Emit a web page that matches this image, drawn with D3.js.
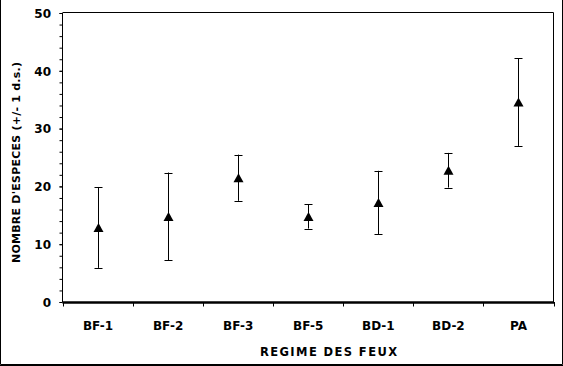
<!DOCTYPE html>
<html>
<head>
<meta charset="utf-8">
<script src="https://cdn.jsdelivr.net/npm/d3@7"></script>
<style>
  html, body { margin: 0; padding: 0; background: #fff; }
  svg { display: block; }
  text { font-family: "DejaVu Sans", "Liberation Sans", Arial, sans-serif; fill: #000; }
</style>
</head>
<body>
<script>
const categories = ["BF-1", "BF-2", "BF-3", "BF-5", "BD-1", "BD-2", "PA"];
const means = [12.9, 14.8, 21.5, 14.8, 17.2, 22.8, 34.6];
const sds = [7.0, 7.6, 4.0, 2.1, 5.5, 3.0, 7.6];
const yTicks = [0, 10, 20, 30, 40, 50];
const yMinorTicks = d3.range(0, 50.01, 2);
const xTitle = "REGIME DES FEUX";
const yTitle = "NOMBRE D'ESPECES (+/- 1 d.s.)";

(function () {
const W = 563, H = 366;
const mLeft = 63, mRight = 553.5, mTop = 13, mBottom = 302;
const FONT = "DejaVu Sans, Liberation Sans, Arial, sans-serif";

const svg = d3.select("body").append("svg").attr("width", W).attr("height", H);

// outer border (left, right, bottom)
svg.append("path")
  .attr("d", `M0.5,0 V364.5 H562.5 V0`)
  .attr("fill", "none").attr("stroke", "#000").attr("stroke-width", 1);
svg.append("line").attr("x1", 0).attr("x2", 563).attr("y1", 365.5).attr("y2", 365.5)
  .attr("stroke", "#000").attr("stroke-width", 1);

const x = d3.scaleBand().domain(categories).range([mLeft, mRight]);
const y = d3.scaleLinear().domain([0, 50]).range([mBottom, mTop]);

// frame: top and right lines
svg.append("path")
  .attr("d", `M${mLeft},${mTop - 0.5} H${mRight} V${mBottom}`)
  .attr("fill", "none").attr("stroke", "#000").attr("stroke-width", 1);

// y axis
const yAxisMinor = d3.axisLeft(y).tickValues(yMinorTicks).tickSize(3).tickFormat("");
const gMinor = svg.append("g").attr("transform", `translate(${mLeft - 0.5},0)`).call(yAxisMinor);
gMinor.select(".domain").remove();
gMinor.selectAll("line").attr("stroke", "#000");

const yAxis = d3.axisLeft(y).tickValues(yTicks).tickSize(3).tickPadding(8.5).tickFormat(d3.format("d"));
const gy = svg.append("g").attr("transform", `translate(${mLeft - 0.5},0)`).call(yAxis);
gy.select(".domain").attr("stroke", "#000").attr("d", `M0,${mTop - 0.5}V${mBottom}`);
gy.selectAll("line").attr("stroke", "#000");
gy.selectAll("text")
  .attr("font-family", FONT)
  .attr("font-size", 12).attr("font-weight", "bold")
  .attr("dy", "0.36em");

// x axis
const gx = svg.append("g").attr("transform", `translate(0,${mBottom})`);
gx.append("line").attr("x1", mLeft - 0.5).attr("x2", mRight + 0.5).attr("y1", 0.5).attr("y2", 0.5)
  .attr("stroke", "#000").attr("stroke-width", 2.5);
const bounds = categories.map(c => x(c)).concat([x.range()[1]]);
gx.selectAll("line.tk").data(bounds).join("line").attr("class", "tk")
  .attr("x1", d => Math.round(d) + 0.5).attr("x2", d => Math.round(d) + 0.5)
  .attr("y1", 0).attr("y2", 4.5).attr("stroke", "#000");
gx.selectAll("text.cat").data(categories).join("text").attr("class", "cat")
  .attr("x", d => x(d) + x.bandwidth() / 2)
  .attr("y", 27.5)
  .attr("text-anchor", "middle")
  .attr("font-family", FONT)
  .attr("font-size", 12).attr("font-weight", "bold")
  .text(d => d);

// titles
svg.append("text")
  .attr("x", 328.5).attr("y", 356)
  .attr("text-anchor", "middle")
  .attr("font-family", FONT)
  .attr("font-size", 11.5).attr("font-weight", "bold")
  .attr("textLength", 137).attr("lengthAdjust", "spacing")
  .text(xTitle);

svg.append("text")
  .attr("transform", `translate(19.5,162.5) rotate(-90)`)
  .attr("text-anchor", "middle")
  .attr("font-family", FONT)
  .attr("font-size", 11).attr("font-weight", "bold")
  .attr("textLength", 201).attr("lengthAdjust", "spacing")
  .text(yTitle);

// error bars
const data = categories.map((c, i) => ({ c, m: means[i], s: sds[i] }));
const cx = d => Math.round(x(d.c) + x.bandwidth() / 2) + 0.5;
const capW = 4;
const eb = svg.append("g").attr("stroke", "#000").attr("stroke-width", 1);
eb.selectAll("line.v").data(data).join("line").attr("class", "v")
  .attr("x1", cx).attr("x2", cx)
  .attr("y1", d => y(d.m + d.s)).attr("y2", d => y(d.m - d.s));
eb.selectAll("line.t").data(data).join("line").attr("class", "t")
  .attr("x1", d => cx(d) - capW).attr("x2", d => cx(d) + capW)
  .attr("y1", d => Math.round(y(d.m + d.s)) + 0.5).attr("y2", d => Math.round(y(d.m + d.s)) + 0.5);
eb.selectAll("line.b").data(data).join("line").attr("class", "b")
  .attr("x1", d => cx(d) - capW).attr("x2", d => cx(d) + capW)
  .attr("y1", d => Math.round(y(d.m - d.s)) + 0.5).attr("y2", d => Math.round(y(d.m - d.s)) + 0.5);

// triangle markers
const triHalfW = 5, triHalfH = 4.5;
const tri = () => {
  const p = d3.path();
  p.moveTo(0, -triHalfH);
  p.lineTo(triHalfW, triHalfH);
  p.lineTo(-triHalfW, triHalfH);
  p.closePath();
  return p.toString();
};
svg.append("g").selectAll("path").data(data).join("path")
  .attr("transform", d => `translate(${cx(d)},${y(d.m)})`)
  .attr("d", tri())
  .attr("fill", "#000");
})();
</script>
</body>
</html>
